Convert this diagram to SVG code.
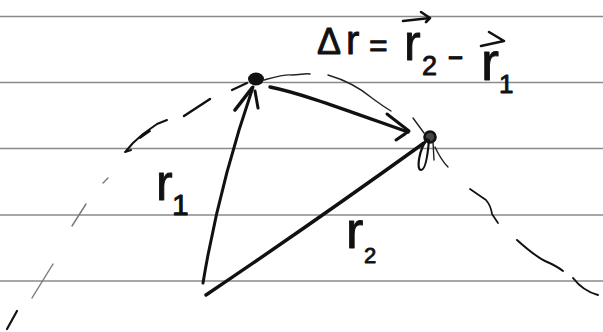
<svg xmlns="http://www.w3.org/2000/svg" width="603" height="332" viewBox="0 0 603 332">
<style>
.rule{stroke:#8a8a8a;stroke-width:1.3;fill:none}
.ink{stroke:#111;fill:none;stroke-linecap:round;stroke-linejoin:round}
.thin{stroke:#222;stroke-width:1.4}
.faint{stroke:#777;stroke-width:1.4}
.bold{stroke-width:3.4}
.t{font-family:"Liberation Sans","DejaVu Sans",sans-serif;fill:#111;stroke:#111;stroke-width:0.9;stroke-linejoin:round}
</style>
<rect width="603" height="332" fill="#fff"/>
<g id="paper">
<line class="rule" x1="0" y1="16.5" x2="603" y2="16.5"/>
<line class="rule" x1="0" y1="82.5" x2="603" y2="82.5"/>
<line class="rule" x1="0" y1="148.5" x2="603" y2="148.5"/>
<line class="rule" x1="0" y1="215" x2="603" y2="215"/>
<line class="rule" x1="0" y1="281" x2="603" y2="281"/>
</g>
<g id="trajectory">
<path class="ink" stroke-width="2.2" d="M7,329 L17,311"/>
<path class="ink faint" d="M32,298 L53,264"/>
<path class="ink faint" d="M72,226 L86,204"/>
<path class="ink faint" d="M103,183 L108,178"/>
<path class="ink" stroke-width="2" d="M126,151 L133,143 L143,134 L157,124 L167,120 M125,152 L131,150 M140,138 L150,131"/>
<path class="ink" stroke-width="2.4" d="M184,116 L210,99"/>
<path class="ink" stroke-width="2.2" d="M232,90 L247,83"/>
<path class="ink thin" d="M264,80 C275,77 285,74 292,75 C300,75 305,73 310,74"/>
<path class="ink thin" d="M328,75 C345,80 360,88 372,98 C380,104 386,108 391,111"/>
<path class="ink thin" d="M413,118 L424,133"/>
<path class="ink thin" d="M435,147 Q441,160 448,167"/>
<path class="ink" stroke-width="1.7" d="M470,189 L486,200 Q491,206 492,214 L498,223"/>
<path class="ink" stroke-width="2" d="M517,240 C527,249 537,257 545,261 C552,264 558,267 563,271"/>
<path class="ink" stroke-width="2" d="M573,278 Q583,291 598,295"/>
</g>
<g id="connectors">
<g id="r1-vector">
<path class="ink" stroke-width="3" d="M203,283 Q219,186 253,87"/>
<path class="ink" stroke-width="3.6" d="M235,110 L252,88"/>
<path class="ink" stroke-width="3" d="M258,108 L255,91"/>
</g>
<g id="r2-vector">
<path class="ink bold" d="M206,295 Q310,225 424,143"/>
</g>
<g id="dr-vector">
<path class="ink bold" d="M270,87 C300,93 340,108 408,132"/>
<path class="ink" stroke-width="3" d="M387,114 L409,131 L396,140 L405,134"/>
</g>
</g>
<g id="point1">
<ellipse cx="256" cy="79" rx="8" ry="6.5" fill="#111"/>
</g>
<g id="point2">
<circle cx="430" cy="137" r="5.5" fill="#444" stroke="#111" stroke-width="2.6"/>
<path class="ink" stroke-width="2.2" d="M427,139 C419,150 416,170 421,170 C426,170 428,152 429,140"/>
<path class="ink thin" d="M433,142 L434,160"/>
</g>
<g id="labels">
<text class="t" x="156" y="200" font-size="50">r</text>
<text class="t" x="172" y="215" font-size="30">1</text>
<text class="t" x="346" y="248" font-size="52">r</text>
<text class="t" x="364" y="263" font-size="22">2</text>
</g>
<g id="equation">
<text class="t" x="317" y="54" font-size="36">Δ</text>
<text class="t" x="346" y="54" font-size="40">r</text>
<text class="t" x="369" y="56" font-size="32">=</text>
<text class="t" x="404" y="60" font-size="50">r</text>
<text class="t" x="422" y="75" font-size="27">2</text>
<text class="t" x="447" y="67" font-size="34" textLength="17" lengthAdjust="spacingAndGlyphs">-</text>
<text class="t" x="481" y="80" font-size="54">r</text>
<text class="t" x="499" y="93" font-size="26">1</text>
<path class="ink" stroke-width="2.6" d="M403,21 L430,18 M421,12 L430,18 L426,22"/>
<path class="ink" stroke-width="2.6" d="M481,46 L504,41 L489,32"/>
</g>
</svg>
